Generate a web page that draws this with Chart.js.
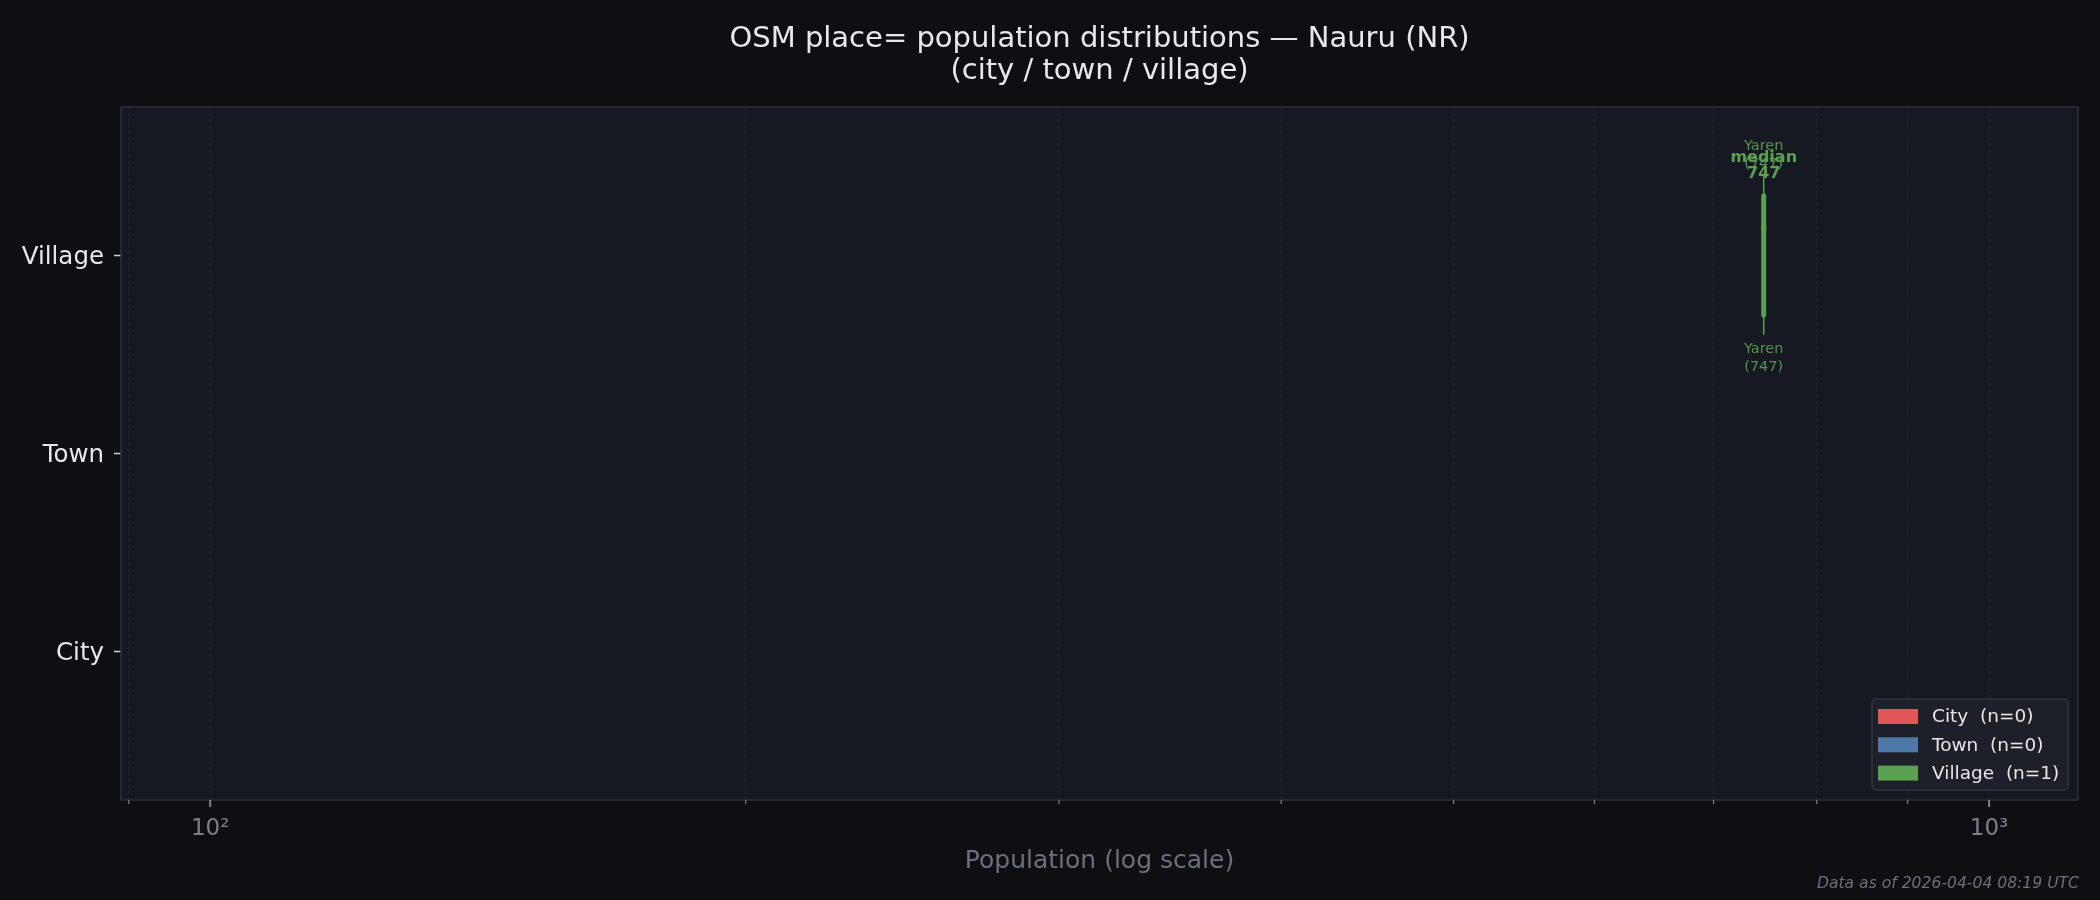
<!DOCTYPE html>
<html>
<head>
<meta charset="utf-8">
<script src="https://cdn.jsdelivr.net/npm/chart.js@4.4.1/dist/chart.umd.min.js"></script>
<style>
  html, body { margin: 0; padding: 0; background: #0e0f13; }
  #wrap { width: 2100px; height: 900px; position: relative; }
</style>
</head>
<body>
<div id="wrap"><canvas id="boxChart"></canvas></div>
<script>
// place categories, bottom to top
const CATEGORIES = ['City', 'Town', 'Village'];
const COUNTS = [0, 0, 1];
const COLORS = ['#e15759', '#4e79a7', '#59a14f'];

// box stats per category (null = no data)
const Q1 = [null, null, 747];
const MEDIANS = [null, null, 747];
const Q3 = [null, null, 747];
const WHISKER_LO = [null, null, 747];
const WHISKER_HI = [null, null, 747];
const LO_NAMES = [null, null, 'Yaren'];
const HI_NAMES = [null, null, 'Yaren'];
const POINTS = [[], [], [747]];

// x axis
const MAJOR_TICKS = [100, 1000];
const MAJOR_LABELS = ['10²', '10³'];
const MINOR_TICKS = [90, 200, 300, 400, 500, 600, 700, 800, 900];
const X_MIN = 89.1, X_MAX = 1122;

const TITLE = ['OSM place= population distributions — Nauru (NR)', '(city / town / village)'];
const X_TITLE = 'Population (log scale)';
const FOOTER = 'Data as of 2026-04-04 08:19 UTC';

const FONT = "'DejaVu Sans', sans-serif";
const BOX_HALF = 0.3, CAP_HALF = 0.4, JITTER = 0.14;

function alpha(hex, a) {
  const n = parseInt(hex.slice(1), 16);
  return `rgba(${n >> 16},${(n >> 8) & 255},${n & 255},${a})`;
}

const datasets = [];
CATEGORIES.forEach((cat, i) => {
  if (!COUNTS[i]) return;
  const c = COLORS[i];
  const line = { showLine: true, pointRadius: 0, spanGaps: false, borderColor: c };
  // caps
  datasets.push(Object.assign({}, line, {
    borderWidth: 1.5,
    data: [
      { x: WHISKER_LO[i], y: i - CAP_HALF }, { x: WHISKER_LO[i], y: i + CAP_HALF },
      { x: WHISKER_LO[i], y: null },
      { x: WHISKER_HI[i], y: i - CAP_HALF }, { x: WHISKER_HI[i], y: i + CAP_HALF }
    ]
  }));
  // whiskers
  datasets.push(Object.assign({}, line, {
    borderWidth: 1.5,
    data: [
      { x: WHISKER_LO[i], y: i }, { x: Q1[i], y: i },
      { x: Q1[i], y: null },
      { x: Q3[i], y: i }, { x: WHISKER_HI[i], y: i }
    ]
  }));
  // box
  datasets.push(Object.assign({}, line, {
    borderWidth: 5,
    borderCapStyle: 'round',
    borderJoinStyle: 'round',
    backgroundColor: alpha(c, 0.35),
    fill: 'shape',
    data: [
      { x: Q1[i], y: i - BOX_HALF }, { x: Q3[i], y: i - BOX_HALF },
      { x: Q3[i], y: i + BOX_HALF }, { x: Q1[i], y: i + BOX_HALF },
      { x: Q1[i], y: i - BOX_HALF }
    ]
  }));
  // median
  datasets.push(Object.assign({}, line, {
    borderWidth: 2.5,
    data: [{ x: MEDIANS[i], y: i - BOX_HALF }, { x: MEDIANS[i], y: i + BOX_HALF }]
  }));
  // raw points
  datasets.push({
    showLine: false,
    pointRadius: 3,
    pointBorderWidth: 0,
    pointBackgroundColor: alpha('#8fd17f', 0.35),
    data: POINTS[i].map(v => ({ x: v, y: i + JITTER }))
  });
});

const decor = {
  id: 'decor',
  beforeDraw(chart) {
    const { ctx, chartArea: a } = chart;
    ctx.save();
    ctx.fillStyle = '#0e0f13';
    ctx.fillRect(0, 0, chart.width, chart.height);
    ctx.fillStyle = '#161922';
    ctx.fillRect(a.left, a.top, a.right - a.left, a.bottom - a.top);
    ctx.restore();
  },
  afterDatasetsDraw(chart) {
    const { ctx, scales: { x, y } } = chart;
    ctx.save();
    ctx.textAlign = 'center';
    ctx.textBaseline = 'middle';
    CATEGORIES.forEach((cat, i) => {
      if (!COUNTS[i]) return;
      const c = COLORS[i];
      const capTop = y.getPixelForValue(i + CAP_HALF);
      const capBot = y.getPixelForValue(i - CAP_HALF);
      const boxTop = y.getPixelForValue(i + BOX_HALF);
      // max / min labels
      ctx.fillStyle = alpha(c, 0.9);
      ctx.font = `14.5px ${FONT}`;
      const xh = x.getPixelForValue(WHISKER_HI[i]);
      ctx.fillText(HI_NAMES[i], xh, capTop - 30.5);
      ctx.fillText(`(${WHISKER_HI[i]})`, xh, capTop - 12.5);
      const xl = x.getPixelForValue(WHISKER_LO[i]);
      ctx.fillText(LO_NAMES[i], xl, capBot + 14.5);
      ctx.fillText(`(${WHISKER_LO[i]})`, xl, capBot + 32.5);
      // median label
      ctx.fillStyle = c;
      ctx.font = `bold 16px ${FONT}`;
      const xm = x.getPixelForValue(MEDIANS[i]);
      ctx.fillText('median', xm, boxTop - 38);
      ctx.fillText(String(MEDIANS[i]), xm, boxTop - 22);
    });
    ctx.restore();
  },
  afterDraw(chart) {
    const { ctx, chartArea: a, scales: { x } } = chart;
    ctx.save();
    // spines
    ctx.strokeStyle = '#2e313a';
    ctx.lineWidth = 1.5;
    ctx.strokeRect(a.left, a.top, a.right - a.left, a.bottom - a.top);
    // x tick marks
    ctx.strokeStyle = '#7b808a';
    MAJOR_TICKS.forEach(v => {
      const px = x.getPixelForValue(v);
      ctx.lineWidth = 2;
      ctx.beginPath(); ctx.moveTo(px, a.bottom); ctx.lineTo(px, a.bottom + 7); ctx.stroke();
    });
    MINOR_TICKS.forEach(v => {
      const px = x.getPixelForValue(v);
      ctx.lineWidth = 1.2;
      ctx.beginPath(); ctx.moveTo(px, a.bottom); ctx.lineTo(px, a.bottom + 4); ctx.stroke();
    });
    // title
    const cx = (a.left + a.right) / 2;
    ctx.fillStyle = '#e8e8ea';
    ctx.font = `29px ${FONT}`;
    ctx.textAlign = 'center';
    ctx.textBaseline = 'middle';
    ctx.fillText(TITLE[0], cx, 39);
    ctx.fillText(TITLE[1], cx, 71);
    // footer
    ctx.fillStyle = '#6b707c';
    ctx.font = `italic 15.6px ${FONT}`;
    ctx.textAlign = 'right';
    ctx.fillText(FOOTER, a.right + 1, 884);
    // legend, bottom-right inside plot
    const lw = 196, lh = 91;
    const lx = a.right - 10 - lw, ly = a.bottom - 10 - lh;
    ctx.fillStyle = 'rgba(30,33,41,0.92)';
    ctx.strokeStyle = '#30343d';
    ctx.lineWidth = 1.5;
    ctx.beginPath();
    ctx.roundRect(lx, ly, lw, lh, 4);
    ctx.fill();
    ctx.stroke();
    ctx.font = `18.5px ${FONT}`;
    ctx.textAlign = 'left';
    CATEGORIES.forEach((cat, i) => {
      const ry = ly + 17.5 + i * 28.3;
      ctx.fillStyle = COLORS[i];
      ctx.fillRect(lx + 6, ry - 7.5, 40, 15);
      ctx.fillStyle = '#e6e6e6';
      ctx.fillText(`${cat}  (n=${COUNTS[i]})`, lx + 60, ry + 1);
    });
    ctx.restore();
  }
};

new Chart(document.getElementById('boxChart'), {
  type: 'scatter',
  data: { datasets },
  options: {
    responsive: true,
    maintainAspectRatio: false,
    devicePixelRatio: 1,
    animation: false,
    events: [],
    layout: { padding: { top: 107, right: 22, left: 0, bottom: 0 } },
    plugins: { legend: { display: false }, tooltip: { enabled: false } },
    scales: {
      x: {
        type: 'logarithmic',
        min: X_MIN,
        max: X_MAX,
        afterBuildTicks: s => {
          s.ticks = MINOR_TICKS.concat(MAJOR_TICKS).sort((p, q) => p - q).map(v => ({ value: v }));
        },
        afterFit: s => { s.height = 100; },
        ticks: {
          autoSkip: false,
          maxRotation: 0,
          padding: 15,
          color: '#7b808a',
          font: { family: FONT, size: 23 },
          callback: v => {
            const k = MAJOR_TICKS.indexOf(v);
            return k >= 0 ? MAJOR_LABELS[k] : '';
          }
        },
        grid: { color: 'rgba(255,255,255,0.05)', lineWidth: 1, drawTicks: false },
        border: { display: false, dash: [3, 3] },
        title: {
          display: true,
          text: X_TITLE,
          color: '#6b707c',
          font: { family: FONT, size: 25 },
          padding: { top: 0, bottom: 24 }
        }
      },
      y: {
        type: 'linear',
        min: -0.75,
        max: 2.75,
        afterBuildTicks: s => { s.ticks = CATEGORIES.map((c, i) => ({ value: i })); },
        afterFit: s => { s.width = 121; },
        ticks: {
          padding: 10,
          labelOffset: 2,
          color: '#e8e8ea',
          font: { family: FONT, size: 24.5 },
          callback: v => CATEGORIES[v]
        },
        grid: { drawOnChartArea: false, tickLength: 7, tickColor: '#d0d0d4', tickWidth: 1.5 },
        border: { display: false }
      }
    }
  },
  plugins: [decor]
});
</script>
</body>
</html>
